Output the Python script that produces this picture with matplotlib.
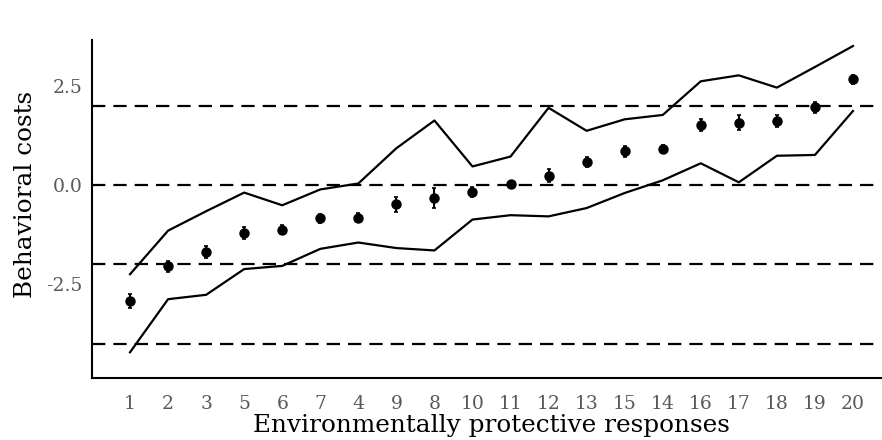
import matplotlib.pyplot as plt
import numpy as np

# response order as shown on the x axis
responses = ['1', '2', '3', '5', '6', '7', '4', '9', '8', '10',
             '11', '12', '13', '15', '14', '16', '17', '18', '19', '20']
costs = [-2.93, -2.05, -1.70, -1.21, -1.13, -0.84, -0.82, -0.48, -0.33, -0.18,
         0.02, 0.24, 0.59, 0.85, 0.91, 1.51, 1.57, 1.62, 1.96, 2.67]
cost_err = [0.17, 0.14, 0.15, 0.14, 0.11, 0.11, 0.11, 0.19, 0.25, 0.13,
            0.09, 0.17, 0.13, 0.13, 0.11, 0.15, 0.19, 0.15, 0.14, 0.11]
upper = [-2.25, -1.15, -0.66, -0.19, -0.51, -0.11, 0.04, 0.93, 1.63, 0.47,
         0.72, 1.95, 1.37, 1.66, 1.77, 2.62, 2.77, 2.46, 2.98, 3.51]
lower = [-4.22, -2.88, -2.77, -2.12, -2.04, -1.61, -1.45, -1.59, -1.65, -0.87,
         -0.76, -0.79, -0.58, -0.20, 0.12, 0.55, 0.07, 0.74, 0.76, 1.87]
ref_levels = [2.0, 0.0, -2.0, -4.0]
y_ticks = [-2.5, 0.0, 2.5]

plt.rcParams['font.family'] = ['DejaVu Serif']

fig = plt.figure(figsize=(8.82, 4.4), dpi=100)
ax = fig.add_axes([0.1043, 0.1409, 0.8947, 0.768])

x = np.arange(len(responses))

for lvl in ref_levels:
    ax.axhline(lvl, color='black', linewidth=1.6, linestyle=(0, (6, 3.6)), zorder=1)

ax.plot(x, upper, color='black', linewidth=1.6, zorder=2)
ax.plot(x, lower, color='black', linewidth=1.6, zorder=2)
ax.errorbar(x, costs, yerr=cost_err, fmt='o', color='black', markersize=6.5,
            elinewidth=1.5, capsize=1.5, capthick=1.2, zorder=3)

ax.set_xlim(-1.0, 19.74)
ax.set_ylim(-4.87, 3.66)
ax.set_xticks(x)
ax.set_xticklabels(responses)
ax.set_yticks(y_ticks)
ax.set_yticklabels(['-2.5', '0.0', '2.5'])
ax.tick_params(axis='both', length=0, labelsize=13.5, colors='#595959')
ax.tick_params(axis='x', pad=12)
ax.tick_params(axis='y', pad=7)

for side in ['top', 'right']:
    ax.spines[side].set_visible(False)
for side in ['left', 'bottom']:
    ax.spines[side].set_linewidth(1.5)

ax.set_xlabel('Environmentally protective responses', fontsize=17.8)
ax.set_ylabel('Behavioral costs', fontsize=17.8)
ax.xaxis.set_label_coords(0.506, -0.108)
ax.yaxis.set_label_coords(-0.070, 0.543)

fig.savefig('out.png', dpi=100)
